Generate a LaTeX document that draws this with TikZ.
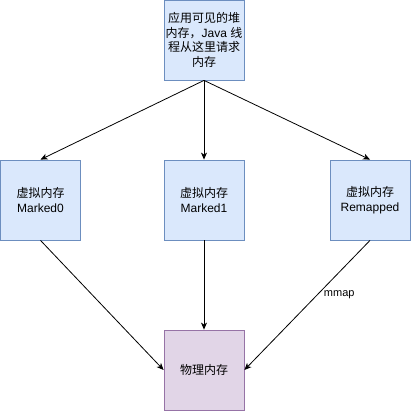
\documentclass[tikz,border=0pt]{standalone}
\usepackage{fontspec}
\setmainfont{Liberation Sans}
\newfontfamily\cjk{Noto Sans CJK SC}
\usetikzlibrary{arrows.meta, positioning}
\definecolor{vmfill}{HTML}{DAE8FC}
\definecolor{vmline}{HTML}{6C8EBF}
\definecolor{pmfill}{HTML}{E1D5E7}
\definecolor{pmline}{HTML}{9673A6}
\def\boxsize{80pt}

\begin{document}
\begin{tikzpicture}[x=1pt,y=1pt,-{Stealth[length=7pt,width=6pt,inset=2pt]},line width=0.8pt,draw=black]
    \tikzstyle{memory}=[rectangle,minimum size=\boxsize,inner sep=1pt,align=center,line width=0.8pt,font=\fontsize{12}{14.5}\selectfont]
    \tikzstyle{heap}=[memory,fill=vmfill,draw=vmline]
    \tikzstyle{virtual}=[memory,fill=vmfill,draw=vmline]
    \tikzstyle{physical}=[memory,fill=pmfill,draw=pmline]
    \tikzstyle{annot}=[font=\fontsize{11}{13}\selectfont]

    \useasboundingbox (0,0) rectangle (411,411);

    % Draw the heap seen by the application
    \node[heap] (H) at (204,371) {{\cjk 应用可见的堆}\\{\cjk 内存，}Java {\cjk 线}\\{\cjk 程从这里请求}\\{\cjk 内存}};

    % Draw the three virtual views
    \foreach \name / \x / \view in {M0/40.5/Marked0,M1/204/Marked1,R/370/Remapped}
        \node[virtual] (V-\name) at (\x,211) {{\cjk 虚拟内存}\\\view};

    % Draw the physical memory
    \node[physical] (P) at (204,41) {\cjk 物理内存};

    % Connect the heap with every virtual view
    \foreach \dest in {M0,M1,R}
        \draw (H.south) -- (V-\dest.north);

    % Connect every virtual view with the physical memory
    \draw (V-M0.south) -- (P.west);
    \draw (V-M1.south) -- (P.north);
    \draw (V-R.south) -- node[annot, pos=0.42, right=3pt] {mmap} (P.east);
\end{tikzpicture}
\end{document}
